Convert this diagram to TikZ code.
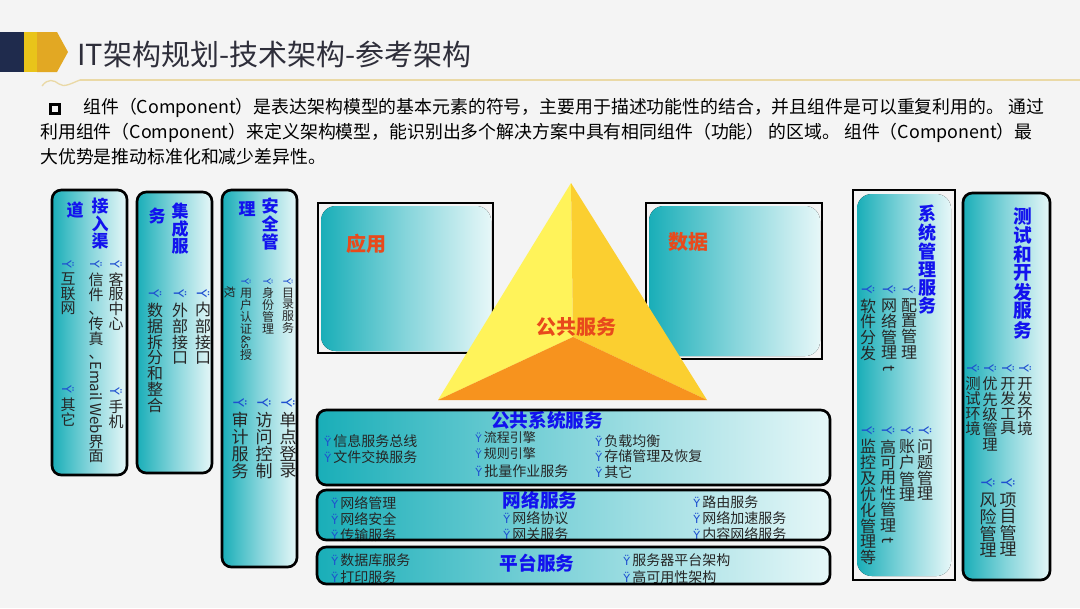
\documentclass[tikz,border=0pt]{standalone}
\usepackage{fontspec}
\setmainfont{Noto Sans CJK SC}
\newfontfamily\dv{DejaVu Sans}
\usepackage{graphicx}
\definecolor{bg}{HTML}{F4F4F4}
\definecolor{navy}{HTML}{1F2B4D}
\definecolor{yelA}{HTML}{E9C41A}
\definecolor{yelB}{HTML}{E2A823}
\definecolor{titlec}{HTML}{2E2E3A}
\definecolor{goldline}{HTML}{EAD9A6}
\definecolor{tealD}{HTML}{19AEB8}
\definecolor{tealM}{HTML}{86D5DB}
\definecolor{tealL}{HTML}{E6F7F8}
\definecolor{blueT}{HTML}{1212EE}
\definecolor{txt}{HTML}{262626}
\definecolor{bulletblue}{HTML}{1E4FD0}
\definecolor{redT}{HTML}{E84A1C}
\definecolor{triL}{HTML}{FFF35A}
\definecolor{triR}{HTML}{FBCF30}
\definecolor{triB}{HTML}{F7931E}
\ExplSyntaxOn
\NewDocumentCommand\vtxt{m}{\vbox{\offinterlineskip\tl_map_inline:nn{#1}{\hbox to 1em{\hss\vphantom{国}##1\hss}\kern0.08em}}}
\ExplSyntaxOff
\newcommand\rot[1]{\rotatebox[origin=c]{-90}{#1}}
\newcommand\vb{{\dv\color{bulletblue}\rotatebox[origin=c]{-90}{\fontsize{0.85em}{1em}\selectfont Ÿ}}}
\newcommand\hb{{\dv\color{bulletblue}\fontsize{0.8em}{1em}\selectfont Ÿ}\,}
\tikzset{
  vit/.style={anchor=north, inner sep=0pt, text=txt, font=\fontsize{#1}{#1}\selectfont},
  vtit/.style={anchor=north, inner sep=0pt, text=blueT, font=\fontsize{#1}{#1}\selectfont\bfseries},
  hit/.style={anchor=west, inner sep=0pt, text=txt, font=\fontsize{#1}{#1}\selectfont},
  htit/.style={inner sep=0pt, text=blueT, font=\fontsize{#1}{#1}\selectfont\bfseries},
  tbox/.style={draw=black, line width=2pt, rounded corners=7pt, left color=tealD, right color=tealL, middle color=tealM},
  tfill/.style={rounded corners=11pt, left color=tealD, right color=tealL, middle color=tealM},
  redlab/.style={inner sep=0pt, text=redT, font=\fontsize{15}{15}\selectfont\bfseries},
  para/.style={anchor=west, inner sep=0pt, text=black, font=\fontsize{13.4}{14}\selectfont}
}
\begin{document}
\begin{tikzpicture}[x=0.75pt,y=-0.75pt]
\useasboundingbox (0,0) rectangle (1080,608);
\fill[bg] (0,0) rectangle (1080,608);
% header
\fill[navy] (0,32) rectangle (24,72);
\fill[yelA] (24,32) rectangle (37,72);
\fill[yelB] (37,32) -- (57,32) -- (68,52) -- (57,72) -- (37,72) -- cycle;
\node[anchor=west, inner sep=0pt, text=titlec, font=\fontsize{21.75}{22}\selectfont] (title) at (77,54) {IT架构规划-技术架构-参考架构};
\draw[goldline, line width=1pt] (80,80) -- (1080,80);
\draw[goldline, line width=1pt] (42,86) .. controls (48,78) and (54,80) .. (59,84) .. controls (64,88) and (72,83) .. (80,80);
% paragraph
\draw[black, line width=2.6pt] (50.5,104.5) rectangle (59.5,113.5);
\node[para] (p1) at (83,108) {组件（Component）是表达架构模型的基本元素的符号，主要用于描述功能性的结合，并且组件是可以重复利用的。 通过};
\node[para] (p2) at (40,133) {利用组件（Component）来定义架构模型，能识别出多个解决方案中具有相同组件（功能） 的区域。 组件（Component）最};
\node[para] (p3) at (40,157) {大优势是推动标准化和减少差异性。};
% app and data boxes
\draw[black, line width=0.9pt] (318,203) rectangle (493,353);
\fill[tfill] (321,206) rectangle (491,351);
\node[redlab] (app) at (366,244) {应用};
\draw[black, line width=0.9pt] (646,203) rectangle (822,359);
\fill[tfill] (649,206) rectangle (820,356);
\node[redlab] (data) at (688,242) {数据};
% pyramid
\coordinate (apex) at (571,183);
\coordinate (bl) at (438,400);
\coordinate (br) at (707,400);
\coordinate (ctr) at (573,337);
\fill[triL] (apex) -- (bl) -- (ctr) -- cycle;
\fill[triR] (apex) -- (ctr) -- (br) -- cycle;
\fill[triB] (bl) -- (ctr) -- (br) -- cycle;
\node[redlab] (pub) at (576,327) {公共服务};
% left box 1
\draw[tbox] (52,190) rectangle (127,475);
\node[vtit=12.75] (b1t1) at (100,198) {\vtxt{接入渠}};
\node[vtit=12.75] (b1t2) at (75,202) {\vtxt{道}};
\node[vit=11.25] (b1a) at (116,258) {\vtxt{\vb 客服中心}};
\node[vit=11.25] (b1b) at (116,385) {\vtxt{\vb 手机}};
\node[vit=11.25] (b1c) at (96,258) {\vtxt{\vb 信件、传真、{\rot{Email\,Web}}界面}};
\node[vit=11.25] (b1d) at (68,258) {\vtxt{\vb 互联网}};
\node[vit=11.25] (b1e) at (68,383) {\vtxt{\vb 其它}};
% left box 2
\draw[tbox] (137,192) rectangle (212,473);
\node[vtit=12.75] (b2t1) at (180,203) {\vtxt{集成服}};
\node[vtit=12.75] (b2t2) at (157,208) {\vtxt{务}};
\node[vit=12] (b2a) at (203,287) {\vtxt{\vb 内部接口}};
\node[vit=12] (b2b) at (180,287) {\vtxt{\vb 外部接口}};
\node[vit=12] (b2c) at (155,287) {\vtxt{\vb 数据拆分和整合}};
% left box 3
\draw[tbox] (222,190) rectangle (297,567);
\node[vtit=12.75] (b3t1) at (270,198) {\vtxt{安全管}};
\node[vtit=12.75] (b3t2) at (247,201) {\vtxt{理}};
\node[vit=9] (b3a) at (288,276) {\vtxt{\vb 目录服务}};
\node[vit=9] (b3b) at (268,276) {\vtxt{\vb 身份管理}};
\node[vit=9] (b3c) at (246,276) {\vtxt{\vb 用户认证{\rot{\&s}}授}};
\node[vit=9] (b3d) at (230,286) {\rot{权}};
\node[vit=12.75] (b3e) at (288,396) {\vtxt{\vb 单点登录}};
\node[vit=12.75] (b3f) at (264,396) {\vtxt{\vb 访问控制}};
\node[vit=12.75] (b3g) at (240,396) {\vtxt{\vb 审计服务}};
% right box 7
\draw[black, line width=0.9pt] (853,190) rectangle (955,580);
\fill[tfill] (857,194) rectangle (951,576);
\node[vtit=13.5] (b7t) at (927,205) {\vtxt{系统管理服务}};
\node[vit=12] (b7a) at (909,283) {\vtxt{\vb 配置管理}};
\node[vit=12] (b7b) at (889,283) {\vtxt{\vb 网络管理{\rot{t}}}};
\node[vit=12] (b7c) at (868,283) {\vtxt{\vb 软件分发}};
\node[vit=12] (b7d) at (925,424) {\vtxt{\vb 问题管理}};
\node[vit=12] (b7e) at (907,424) {\vtxt{\vb 账户管理}};
\node[vit=12] (b7f) at (888,424) {\vtxt{\vb 高可用性管理{\rot{t}}}};
\node[vit=12] (b7g) at (868,424) {\vtxt{\vb 监控及优化管理等}};
% right box 8
\draw[tbox] (963,193) rectangle (1050,580);
\node[vtit=14] (b8t) at (1023,207) {\vtxt{测试和开发服务}};
\node[vit=11.5] (b8a) at (1025,362) {\vtxt{\vb 开发环境}};
\node[vit=11.5] (b8b) at (1008,362) {\vtxt{\vb 开发工具}};
\node[vit=11.5] (b8c) at (990,362) {\vtxt{\vb 优先级管理}};
\node[vit=11.5] (b8d) at (973,362) {\vtxt{\vb 测试环境}};
\node[vit=12.75] (b8e) at (1008,476) {\vtxt{\vb 项目管理}};
\node[vit=12.75] (b8f) at (988,476) {\vtxt{\vb 风险管理}};
% bottom box 1
\shade[left color=tealD, right color=tealL, middle color=tealM, rounded corners=7pt] (317,410) rectangle (830,485);
\node[htit=14] (c1t) at (547,420) {公共系统服务};
\node[hit=10.5] (c1a) at (324,441) {\hb 信息服务总线};
\node[hit=10.5] (c1b) at (324,457) {\hb 文件交换服务};
\node[hit=9.75] (c1c) at (475,438) {\hb 流程引擎};
\node[hit=9.75] (c1d) at (475,454) {\hb 规则引擎};
\node[hit=10.5] (c1e) at (475,471) {\hb 批量作业服务};
\node[hit=10.5] (c1f) at (595,441) {\hb 负载均衡};
\node[hit=10.5] (c1g) at (595,456) {\hb 存储管理及恢复};
\node[hit=10.5] (c1h) at (595,472) {\hb 其它};
\draw[black, line width=2pt, rounded corners=7pt] (317,410) rectangle (830,485);
% bottom box 2
\shade[left color=tealD, right color=tealL, middle color=tealM, rounded corners=7pt] (317,490) rectangle (830,540);
\node[htit=14] (c2t) at (540,500) {网络服务};
\node[hit=10.5] (c2a) at (331,503) {\hb 网络管理};
\node[hit=10.5] (c2b) at (331,519) {\hb 网络安全};
\node[hit=10.5] (c2c) at (331,535) {\hb 传输服务};
\node[hit=10.5] (c2d) at (503,518) {\hb 网络协议};
\node[hit=10.5] (c2e) at (503,534) {\hb 网关服务};
\node[hit=10.5] (c2f) at (693,502) {\hb 路由服务};
\node[hit=10.5] (c2g) at (693,518) {\hb 网络加速服务};
\node[hit=10.5] (c2h) at (693,534) {\hb 内容网络服务};
\draw[black, line width=2pt, rounded corners=7pt] (317,490) rectangle (830,540);
% bottom box 3
\shade[left color=tealD, right color=tealL, middle color=tealM, rounded corners=7pt] (317,547) rectangle (830,584);
\node[htit=14] (c3t) at (537,563) {平台服务};
\node[hit=10.5] (c3a) at (331,560) {\hb 数据库服务};
\node[hit=10.5] (c3b) at (331,577) {\hb 打印服务};
\node[hit=10.5] (c3c) at (623,560) {\hb 服务器平台架构};
\node[hit=10.5] (c3d) at (623,577) {\hb 高可用性架构};
\draw[black, line width=2pt, rounded corners=7pt] (317,547) rectangle (830,584);
\end{tikzpicture}
\end{document}
